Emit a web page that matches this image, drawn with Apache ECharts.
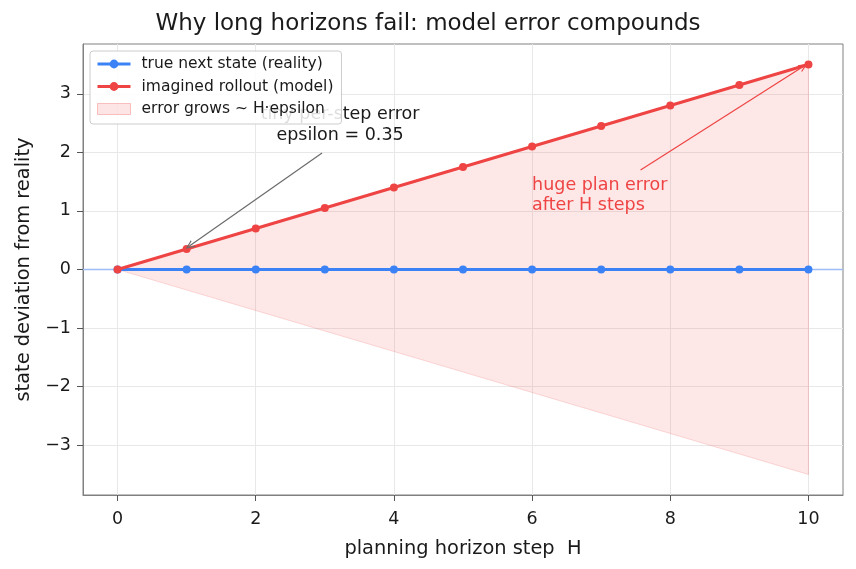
<!DOCTYPE html>
<html>
<head>
<meta charset="utf-8">
<script src="https://cdn.jsdelivr.net/npm/echarts@6/dist/echarts.min.js"></script>
<style>
  html, body { margin: 0; padding: 0; background: #fff; }
  #chart { width: 856px; height: 569px; }
</style>
</head>
<body>
<div id="chart"></div>
<script>
  // data
  var steps = [0, 1, 2, 3, 4, 5, 6, 7, 8, 9, 10];
  var reality = [0, 0, 0, 0, 0, 0, 0, 0, 0, 0, 0];
  var model = [0, 0.35, 0.70, 1.05, 1.40, 1.75, 2.10, 2.45, 2.80, 3.15, 3.50];
  var xTicks = [0, 2, 4, 6, 8, 10];
  var yTicks = [-3, -2, -1, 0, 1, 2, 3];

  var BLUE = '#3b82f6', RED = '#ef4444';
  var font = 'DejaVu Sans';
  var openArrow = 'path://M5,0 L10,10 L8.4,10 L5,3.2 L1.6,10 L0,10 Z';

  function pairs(ys) {
    return steps.map(function (x, i) { return [x, ys[i]]; });
  }
  function minus(v) { return String(v).replace('-', '\u2212'); }

  // shaded cone between +model and -model, built through the axes
  function renderCone(params, api) {
    var pts = [];
    for (var i = 0; i < steps.length; i++) pts.push(api.coord([steps[i], model[i]]));
    for (var j = steps.length - 1; j >= 0; j--) pts.push(api.coord([steps[j], -model[j]]));
    return {
      type: 'polygon',
      shape: { points: pts },
      style: { fill: 'rgba(239,68,68,0.13)', stroke: 'rgba(239,68,68,0.18)', lineWidth: 1 }
    };
  }

  var myChart = echarts.init(document.getElementById('chart'));
  var option = {
    animation: false,
    textStyle: { fontFamily: font },
    title: {
      text: 'Why long horizons fail: model error compounds',
      left: 'center', top: 8,
      textStyle: { fontSize: 23, fontWeight: 'normal', color: '#1a1a1a', fontFamily: font }
    },
    grid: {
      left: 83, right: 13, top: 44, bottom: 74,
      show: true, borderColor: '#808080', borderWidth: 1
    },
    legend: {
      left: 90, top: 51, orient: 'vertical', z: 10,
      backgroundColor: 'rgba(255,255,255,0.85)',
      borderColor: '#cccccc', borderWidth: 1, borderRadius: 3,
      padding: [5, 8, 7, 6],
      itemWidth: 33, itemHeight: 11, itemGap: 6.5,
      textStyle: { fontSize: 15.5, color: '#1a1a1a', fontFamily: font, padding: [0, 0, 0, 6] },
      data: [
        { name: 'true next state (reality)', lineStyle: { width: 3 } },
        { name: 'imagined rollout (model)', lineStyle: { width: 3 } },
        { name: 'error grows ~ H\u00b7epsilon', icon: 'rect',
          itemStyle: { color: 'rgba(239,68,68,0.14)', borderColor: 'rgba(239,68,68,0.3)', borderWidth: 1 } }
      ]
    },
    xAxis: {
      type: 'value', min: -0.5, max: 10.5,
      name: 'planning horizon step  H', nameLocation: 'middle', nameGap: 44,
      nameTextStyle: { fontSize: 19.4, color: '#1a1a1a' },
      axisLine: { show: true, onZero: false, lineStyle: { color: '#808080' } },
      axisTick: { show: true, customValues: xTicks, length: 6, lineStyle: { color: '#555' } },
      axisLabel: { customValues: xTicks, fontSize: 17.5, color: '#1a1a1a', margin: 15 },
      splitLine: { show: true, lineStyle: { color: '#e8e8e8' } }
    },
    yAxis: {
      type: 'value', min: -3.85, max: 3.85,
      name: 'state deviation from reality', nameLocation: 'middle', nameGap: 50,
      nameTextStyle: { fontSize: 19.4, color: '#1a1a1a' },
      axisLine: { show: true, onZero: false, lineStyle: { color: '#808080' } },
      axisTick: { show: true, customValues: yTicks, length: 6, lineStyle: { color: '#555' } },
      axisLabel: { customValues: yTicks, fontSize: 17.5, color: '#1a1a1a', margin: 12, formatter: minus },
      splitLine: { show: true, lineStyle: { color: '#e8e8e8' } }
    },
    series: [
      {
        name: 'error grows ~ H\u00b7epsilon', type: 'custom', z: 1,
        renderItem: renderCone, data: [[0, 0]],
        itemStyle: { color: 'rgba(239,68,68,0.14)' }
      },
      {
        name: 'zero line', type: 'line', z: 2, silent: true, symbol: 'none',
        data: [[-0.5, 0], [10.5, 0]],
        lineStyle: { color: '#9dbdf7', width: 1.5 }
      },
      {
        name: 'true next state (reality)', type: 'line', data: pairs(reality), z: 3,
        symbol: 'circle', symbolSize: 8, color: BLUE,
        lineStyle: { width: 3, color: BLUE }, itemStyle: { color: BLUE }
      },
      {
        name: 'imagined rollout (model)', type: 'line', data: pairs(model), z: 4,
        symbol: 'circle', symbolSize: 8, color: RED,
        lineStyle: { width: 3, color: RED }, itemStyle: { color: RED },
        markLine: {
          silent: true, symbol: ['none', openArrow], symbolSize: [8, 9],
          label: { show: false },
          data: [
            [{ coord: [2.96, 1.99], lineStyle: { color: '#6b6b6b', width: 1.2, type: 'solid' } },
             { coord: [1.04, 0.40] }],
            [{ coord: [7.57, 1.70], lineStyle: { color: RED, width: 1.2, type: 'solid' } },
             { coord: [9.93, 3.47] }]
          ]
        },
        markPoint: {
          silent: true, symbol: 'circle', symbolSize: 0,
          data: [
            { coord: [3.22, 2.46],
              label: { show: true, position: 'inside', formatter: 'tiny per-step error\nepsilon = 0.35',
                       color: '#1a1a1a', fontSize: 17.5, lineHeight: 21, align: 'center', fontFamily: font } },
            { coord: [6.0, 1.26],
              label: { show: true, position: 'inside', formatter: 'huge plan error\nafter H steps',
                       color: RED, fontSize: 17.5, lineHeight: 20, align: 'left', fontFamily: font } }
          ]
        }
      }
    ]
  };
  myChart.setOption(option);
</script>
</body>
</html>
